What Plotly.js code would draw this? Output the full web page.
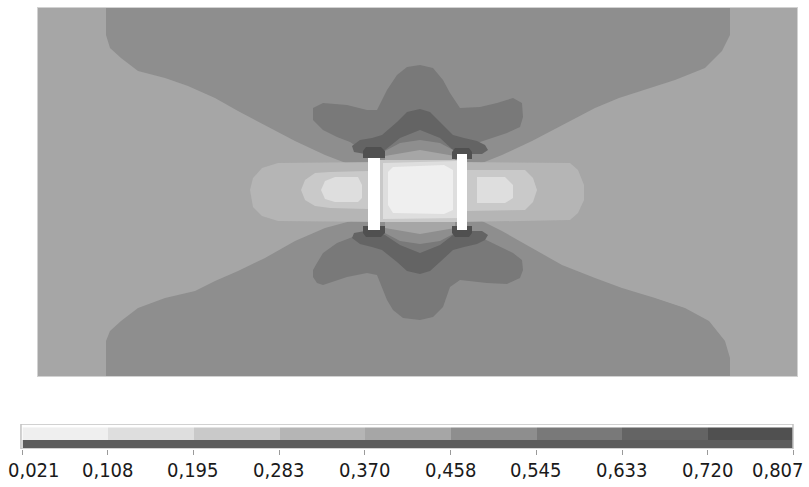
<!DOCTYPE html>
<html><head><meta charset="utf-8">
<script src="https://cdn.plot.ly/plotly-3.0.1.min.js"></script>
<style>html,body{margin:0;padding:0;background:#fff}#chart{width:809px;height:487px}</style>
</head><body><div id="chart"></div>
<script>
// Contour levels (colour bar boundaries) and grey level colours
const levelEdges = [0.021, 0.108, 0.195, 0.283, 0.370, 0.458, 0.545, 0.633, 0.720, 0.807];
const levelColors = ['#efefef', '#dedede', '#c9c9c9', '#b5b5b5', '#a6a6a6', '#8e8e8e', '#797979', '#646464', '#505050'];

// Field extent (model units)
const domainX = [-384, 375];
const domainY = [-184, 184];

// Iso-zone boundaries (level = colour band 1..9)
const bgX = [-384, 375, 375, -384];
const bgY = [-184, -184, 184, 184];

const lobeTopX = [-316, -316, -312, -301, -284, -257, -234, -207, -184, -157, -127, -97, -71, -57, 53, 60, 80, 110, 140, 173, 197, 227, 253, 283, 300, 308, 308];
const lobeTopY = [184, 157, 144, 134, 121, 114, 106, 94, 81, 67, 51, 37, 27, 20, 20, 29, 37, 51, 67, 84, 94, 104, 112, 124, 141, 157, 184];

const lobeBotX = [-316, -316, -312, -301, -284, -257, -227, -207, -184, -157, -127, -97, -71, -57, 53, 60, 80, 110, 140, 173, 200, 233, 263, 287, 303, 308, 308];
const lobeBotY = [-184, -149, -139, -129, -116, -106, -99, -89, -79, -66, -49, -36, -29, -20, -20, -29, -39, -56, -73, -86, -96, -106, -116, -129, -149, -166, -184];

const wingTopX = [-109, -109, -99, -75, -55, -45, -35, -25, -15, -2, 11, 21, 28, 38, 58, 75, 91, 100, 101, 98, 85, 71, 58, 48, -2, -57, -72, -85, -99];
const wingTopY = [72, 84, 89, 87, 82, 82, 102, 117, 125, 127, 124, 112, 99, 84, 85, 89, 94, 89, 75, 65, 59, 54, 50, 40, 34, 40, 50, 55, 62];

const wingBotX = [-109, -109, -105, -99, -75, -55, -45, -35, -29, -19, -2, 11, 21, 28, 38, 65, 85, 98, 101, 100, 91, 71, 58, 45, -2, -59, -72, -85, -99, -105];
const wingBotY = [-78, -85, -91, -93, -85, -81, -83, -108, -118, -126, -128, -125, -115, -95, -88, -91, -92, -86, -78, -68, -61, -51, -45, -41, -36, -41, -46, -51, -61, -71];

const vTopX = [-70, -62, -50, -40, -25, -15, -2, 8, 18, 31, 42, 55, 63, 66, 60, 48, 31, 18, -2, -22, -37, -57, -68];
const vTopY = [46, 52, 54, 57, 70, 80, 83, 80, 70, 57, 54, 51, 47, 42, 38, 38, 42, 54, 62, 54, 42, 38, 40];

const vBotX = [-70, -62, -50, -40, -25, -15, -2, 8, 18, 31, 42, 55, 63, 66, 60, 48, 31, 18, -2, -22, -37, -57, -68];
const vBotY = [-46, -52, -55, -58, -70, -79, -82, -79, -70, -58, -55, -52, -48, -43, -39, -39, -43, -53, -61, -53, -43, -39, -41];

const innerTop6X = [-39, -22, -2, 18, 35, 35, -39];
const innerTop6Y = [40, 49, 52, 49, 40, 30, 30];
const innerBot6X = [-39, -22, -2, 18, 35, 35, -39];
const innerBot6Y = [-40, -49, -52, -49, -40, -30, -30];
const innerTop5X = [-37, -2, 33, 33, -37];
const innerTop5Y = [36, 42, 36, 29, 29];
const innerBot5X = [-37, -2, 33, 33, -37];
const innerBot5Y = [-36, -42, -36, -29, -29];

const zone4X = [-172, -169, -160, -144, -42, 38, 148, 156, 162, 162, 156, 148, 38, -42, -144, -160, -169];
const zone4Y = [2, 14, 24, 29, 30, 30, 29, 22, 7, -8, -21, -28, -30, -30, -29, -24, -15];

const zone3X = [-121, -117, -107, -92, -54, -54, 38, 45, 103, 111, 115, 111, 103, 45, 38, -54, -54, -92, -107, -117];
const zone3Y = [2, 12, 19, 20, 21, 32, 32, 22, 22, 14, 2, -10, -18, -19, -30, -30, -17, -16, -14, -8];

const zone2LX = [-101, -97, -87, -64, -60, -60, -64, -87, -97];
const zone2LY = [2, 11, 15, 15, 7, -6, -10, -10, -7];
const zone2CX = [-39, 35, 38, -39];
const zone2CY = [29, 31, -26, -27];
const zone2RX = [55, 83, 91, 91, 83, 55];
const zone2RY = [15, 15, 7, -6, -11, -11];

const zone1X = [-29, 22, 31, 31, 22, -29, -34, -34];
const zone1Y = [25, 27, 22, -18, -22, -21, -13, 20];

const capLTX = [-56, -41, -37, -37, -59, -59];
const capLTY = [45, 45, 41, 34, 34, 41];
const capRTX = [33, 47, 50, 50, 30, 30];
const capRTY = [44, 44, 40, 33, 33, 40];
const capLBX = [-59, -37, -37, -41, -56, -59];
const capLBY = [-34, -34, -41, -45, -45, -41];
const capRBX = [30, 50, 50, 47, 33, 30];
const capRBY = [-34, -34, -41, -45, -45, -41];

// Electrodes (no value, drawn white)
const electrodeLX = [-54, -42, -42, -54];
const electrodeLY = [34, 34, -38, -38];
const electrodeRX = [35, 45, 45, 35];
const electrodeRY = [38, 38, -38, -38];

const regions = [
  [5, bgX, bgY],
  [6, lobeTopX, lobeTopY], [6, lobeBotX, lobeBotY],
  [7, wingTopX, wingTopY], [7, wingBotX, wingBotY],
  [8, vTopX, vTopY], [8, vBotX, vBotY],
  [6, innerTop6X, innerTop6Y], [6, innerBot6X, innerBot6Y],
  [5, innerTop5X, innerTop5Y], [5, innerBot5X, innerBot5Y],
  [4, zone4X, zone4Y], [3, zone3X, zone3Y],
  [2, zone2LX, zone2LY], [2, zone2CX, zone2CY], [2, zone2RX, zone2RY],
  [1, zone1X, zone1Y],
  [9, capLTX, capLTY], [9, capRTX, capRTY], [9, capLBX, capLBY], [9, capRBX, capRBY],
  [0, electrodeLX, electrodeLY], [0, electrodeRX, electrodeRY]
];

const traces = regions.map(([lev, xs, ys]) => {
  const col = lev === 0 ? '#ffffff' : levelColors[lev - 1];
  return {
    type: 'scatter', mode: 'lines', x: xs, y: ys, fill: 'toself',
    fillcolor: col, line: {width: 0, color: col},
    hoverinfo: 'skip', showlegend: false, xaxis: 'x', yaxis: 'y'
  };
});

// Colour bar as a heatmap strip
const nLev = levelColors.length;
traces.push({
  type: 'heatmap', x: levelEdges, y: [9, 21.5],
  z: [levelColors.map((c, i) => i)],
  colorscale: levelColors.map((c, i) => [i / (nLev - 1), c]),
  zmin: 0, zmax: nLev - 1, showscale: false, hoverinfo: 'skip',
  xaxis: 'x2', yaxis: 'y2'
});

const W = 809, H = 487, L = 20, R = 12, T = 8, B = 38;
const pw = W - L - R, ph = H - T - B;
const px = p => (p - L) / pw, py = p => (H - B - p) / ph;

const tickText = levelEdges.map(v => v.toFixed(3).replace('.', ','));
const labelFont = {family: 'DejaVu Sans Condensed, Liberation Sans Narrow, Arial, sans-serif', size: 20, color: '#1a1a1a'};
const lastIdx = levelEdges.length - 1;
const v0 = levelEdges[0], v1 = levelEdges[lastIdx];
const annotations = levelEdges.map((v, i) => ({
  xref: 'x2 domain', yref: 'paper', x: (v - v0) / (v1 - v0), y: py(470), yanchor: 'middle',
  xanchor: i === 0 ? 'left' : (i === lastIdx ? 'right' : 'center'),
  xshift: i === 0 ? -17 : (i === lastIdx ? 13 : 0),
  text: tickText[i], showarrow: false, font: labelFont
}));

const layout = {
  width: W, height: H,
  margin: {l: L, r: R, t: T, b: B, pad: 0},
  paper_bgcolor: '#ffffff', plot_bgcolor: 'rgba(0,0,0,0)',
  showlegend: false,
  annotations: annotations,
  xaxis: {domain: [px(38), px(797)], range: domainX, showgrid: false, zeroline: false,
          showticklabels: false, ticks: '', showline: true, mirror: true, linecolor: '#d2d2d2', linewidth: 1, fixedrange: true},
  yaxis: {domain: [py(376), py(8)], range: domainY, showgrid: false, zeroline: false,
          showticklabels: false, ticks: '', showline: true, mirror: true, linecolor: '#d2d2d2', linewidth: 1, fixedrange: true},
  xaxis2: {domain: [px(22.5), px(793)], anchor: 'y2', range: [v0, v1],
           tickvals: levelEdges, showticklabels: false, ticks: 'outside', ticklen: 5, tickcolor: '#9a9a9a', tickwidth: 1,
           showgrid: false, zeroline: false, showline: false, fixedrange: true},
  yaxis2: {domain: [0, py(424)], anchor: 'x2', range: [0, 25], visible: false, fixedrange: true},
  shapes: [
    {type: 'rect', xref: 'x2', yref: 'y2', x0: v0, x1: v1, y0: 1, y1: 9,
     fillcolor: '#5c5c5c', line: {width: 0}},
    {type: 'rect', xref: 'x2 domain', yref: 'y2', x0: -0.002, x1: 1.0, y0: 0, y1: 25,
     fillcolor: 'rgba(0,0,0,0)', line: {width: 1.5, color: '#c2c2c2'}}
  ]
};

Plotly.newPlot('chart', traces, layout, {staticPlot: true, displayModeBar: false});
</script>
</body></html>
